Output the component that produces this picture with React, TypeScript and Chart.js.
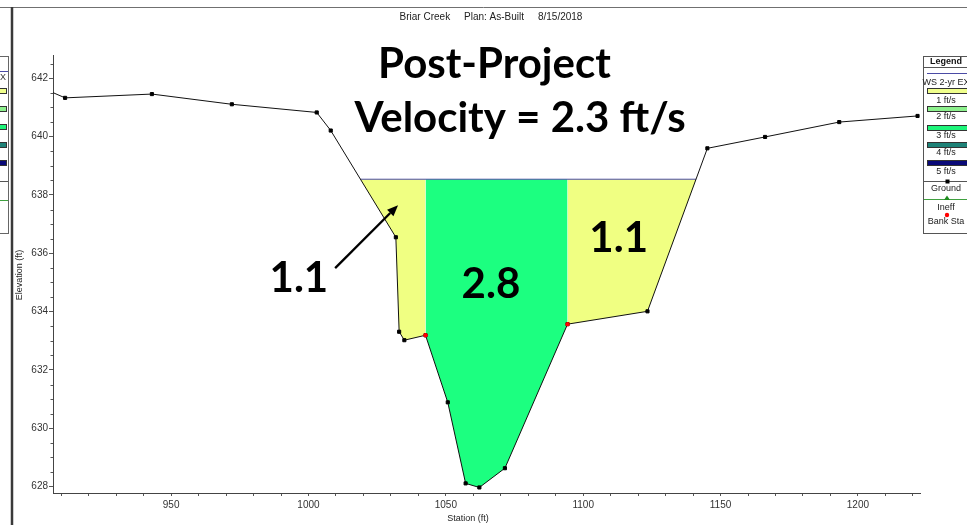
import React, { useEffect, useRef } from "react";
import { Chart, registerables } from "chart.js";

Chart.register(...registerables);

// ---- Data ----
const groundStation = [906.0, 911.4, 943.0, 972.1, 1003.0, 1008.1, 1031.8, 1033.0, 1034.9, 1042.6, 1050.7, 1057.2, 1062.2, 1071.5, 1094.3, 1123.4, 1145.2, 1166.2, 1193.2, 1221.7];
const groundElevation = [641.55, 641.33, 641.46, 641.11, 640.83, 640.21, 636.55, 633.31, 633.02, 633.19, 630.89, 628.11, 627.97, 628.63, 633.57, 634.01, 639.6, 639.99, 640.5, 640.71];
const bankStation = [1042.6, 1094.3];
const bankElevation = [633.19, 633.57];
const wsElevation = 638.54;
const wsLeftStation = 1018.9;
const wsRightStation = 1141.1;
const zoneBounds = [wsLeftStation, 1042.6, 1094.3, wsRightStation];
const zoneVelocity = ["1.1", "2.8", "1.1"];
const xMajorTicks = [950, 1000, 1050, 1100, 1150, 1200];
const yMajorTicks = [628, 630, 632, 634, 636, 638, 640, 642];
const legendLabels = ["WS 2-yr EX", "1 ft/s", "2 ft/s", "3 ft/s", "4 ft/s", "5 ft/s", "Ground", "Ineff", "Bank Sta"];
const titleText = "Briar Creek     Plan: As-Built     8/15/2018";
const headline = ["Post-Project", "Velocity = 2.3 ft/s"];

// ---- Styles / layout ----
const zoneColors = ["#F0FF82", "#1CFF80", "#F0FF82"];
const legendBarColors = ["#F0FF8C", "#8CF08C", "#1EF57A", "#1E8278", "#0A0A78"];
const smallFont = "'Liberation Sans Narrow', 'Liberation Sans', Arial, sans-serif";
const bigFont = "Lato, 'Open Sans', sans-serif";
// annotation anchors in data units (station, elevation)
const headlinePos = [
  { x: 1067.7, y: 642.01 },
  { x: 1077.0, y: 640.16 },
];
const zoneLabelPos = [
  { x: 996.5, y: 634.68 },
  { x: 1066.4, y: 634.46 },
  { x: 1112.9, y: 636.05 },
];
const arrowFrom = { x: 1009.7, y: 635.49 };
const arrowTo = { x: 1032.6, y: 637.65 };

function zonePoints(a: number, b: number) {
  const pts: { x: number; y: number }[] = [];
  if (a === wsLeftStation) pts.push({ x: a, y: wsElevation });
  groundStation.forEach((s, i) => {
    if (s >= a && s <= b) pts.push({ x: s, y: groundElevation[i] });
  });
  if (b === wsRightStation) pts.push({ x: b, y: wsElevation });
  return pts;
}

const decorPlugin = {
  id: "decor",
  beforeDraw(chart: any) {
    const ctx = chart.ctx;
    ctx.save();
    ctx.fillStyle = "#ffffff";
    ctx.fillRect(0, 0, chart.width, chart.height);
    // window frame lines
    ctx.strokeStyle = "#707070";
    ctx.lineWidth = 1;
    ctx.beginPath();
    ctx.moveTo(0, 7.5);
    ctx.lineTo(chart.width, 7.5);
    ctx.stroke();
    ctx.strokeStyle = "#3a3a3a";
    ctx.lineWidth = 2.5;
    ctx.beginPath();
    ctx.moveTo(12, 7);
    ctx.lineTo(12, chart.height);
    ctx.stroke();

    // left legend fragment (neighbouring window)
    ctx.lineWidth = 1;
    ctx.strokeStyle = "#666";
    ctx.strokeRect(-20.5, 56.5, 29, 177);
    ctx.strokeStyle = "#4B4BA5";
    ctx.beginPath();
    ctx.moveTo(0, 71.5);
    ctx.lineTo(8, 71.5);
    ctx.stroke();
    ctx.fillStyle = "#333";
    ctx.font = `9px ${smallFont}`;
    ctx.textAlign = "right";
    ctx.textBaseline = "middle";
    ctx.fillText("EX", 6, 78);
    const fragY = [91, 109, 127, 145, 163];
    fragY.forEach((y, i) => {
      ctx.fillStyle = legendBarColors[i];
      ctx.fillRect(-10, y - 2, 16.5, 4);
      ctx.strokeStyle = "#333";
      ctx.strokeRect(-10.5, y - 2.5, 17, 5);
    });
    ctx.strokeStyle = "#555";
    ctx.beginPath();
    ctx.moveTo(0, 181.5);
    ctx.lineTo(8, 181.5);
    ctx.stroke();
    ctx.strokeStyle = "#3FA03F";
    ctx.beginPath();
    ctx.moveTo(0, 200.5);
    ctx.lineTo(8, 200.5);
    ctx.stroke();
    ctx.restore();
  },
  afterDraw(chart: any) {
    const ctx = chart.ctx;
    const xs = chart.scales.x;
    const ys = chart.scales.y;
    const area = chart.chartArea;
    ctx.save();

    // minor y ticks (every 0.5 ft)
    ctx.strokeStyle = "#555";
    ctx.lineWidth = 1;
    for (let v = 628; v <= 642.5; v += 0.5) {
      if (yMajorTicks.includes(v)) continue;
      const py = Math.round(ys.getPixelForValue(v)) + 0.5;
      ctx.beginPath();
      ctx.moveTo(area.left - 2.5, py);
      ctx.lineTo(area.left, py);
      ctx.stroke();
    }

    // title
    ctx.fillStyle = "#222";
    ctx.font = `10px ${smallFont}`;
    ctx.textAlign = "center";
    ctx.textBaseline = "middle";
    ctx.fillText(titleText, 491, 17);

    // axis titles
    ctx.font = `9px ${smallFont}`;
    ctx.fillText("Station (ft)", 468, 519);
    ctx.save();
    ctx.translate(20, 275);
    ctx.rotate(-Math.PI / 2);
    ctx.fillText("Elevation (ft)", 0, 0);
    ctx.restore();

    // right legend
    const lx = 923.5;
    ctx.strokeStyle = "#555";
    ctx.lineWidth = 1;
    ctx.strokeRect(lx, 56.5, 60, 177);
    ctx.beginPath();
    ctx.moveTo(lx, 67.5);
    ctx.lineTo(chart.width, 67.5);
    ctx.stroke();
    ctx.fillStyle = "#111";
    ctx.font = `bold 9px ${smallFont}`;
    ctx.fillText("Legend", 946, 62);
    ctx.strokeStyle = "#4B4BA5";
    ctx.beginPath();
    ctx.moveTo(927, 73.5);
    ctx.lineTo(chart.width, 73.5);
    ctx.stroke();
    const labelY = [83, 101, 117, 136, 153, 172, 189, 208, 222];
    ctx.font = `9px ${smallFont}`;
    ctx.fillStyle = "#222";
    legendLabels.forEach((t, i) => ctx.fillText(t, 946, labelY[i]));
    const barY = [91, 109, 128, 145, 163];
    barY.forEach((y, i) => {
      ctx.fillStyle = legendBarColors[i];
      ctx.fillRect(928, y - 2, 50, 4);
      ctx.strokeStyle = "#333";
      ctx.strokeRect(927.5, y - 2.5, 51, 5);
    });
    ctx.strokeStyle = "#555";
    ctx.beginPath();
    ctx.moveTo(924, 181.5);
    ctx.lineTo(chart.width, 181.5);
    ctx.stroke();
    ctx.fillStyle = "#000";
    ctx.fillRect(945.5, 179.5, 4, 4);
    ctx.strokeStyle = "#3FA03F";
    ctx.beginPath();
    ctx.moveTo(924, 199.5);
    ctx.lineTo(chart.width, 199.5);
    ctx.stroke();
    ctx.fillStyle = "#1E8C1E";
    ctx.beginPath();
    ctx.moveTo(947, 195.5);
    ctx.lineTo(950, 200);
    ctx.lineTo(944, 200);
    ctx.closePath();
    ctx.fill();
    ctx.fillStyle = "#FF0000";
    ctx.beginPath();
    ctx.arc(947, 215, 2.2, 0, Math.PI * 2);
    ctx.fill();

    // headline and velocity labels
    ctx.fillStyle = "#000";
    ctx.textBaseline = "alphabetic";
    ctx.textAlign = "center";
    ctx.font = `bold 42px ${bigFont}`;
    headline.forEach((t, i) => {
      ctx.fillText(t, xs.getPixelForValue(headlinePos[i].x), ys.getPixelForValue(headlinePos[i].y));
    });
    zoneVelocity.forEach((t, i) => {
      ctx.fillText(t, xs.getPixelForValue(zoneLabelPos[i].x), ys.getPixelForValue(zoneLabelPos[i].y));
    });

    // arrow
    const x0 = xs.getPixelForValue(arrowFrom.x);
    const y0 = ys.getPixelForValue(arrowFrom.y);
    const x1 = xs.getPixelForValue(arrowTo.x);
    const y1 = ys.getPixelForValue(arrowTo.y);
    const ang = Math.atan2(y1 - y0, x1 - x0);
    const headLen = 11;
    const headW = 4.5;
    const bx = x1 - headLen * Math.cos(ang);
    const by = y1 - headLen * Math.sin(ang);
    ctx.strokeStyle = "#000";
    ctx.lineWidth = 2.3;
    ctx.beginPath();
    ctx.moveTo(x0, y0);
    ctx.lineTo(bx, by);
    ctx.stroke();
    ctx.beginPath();
    ctx.moveTo(x1, y1);
    ctx.lineTo(bx + headW * Math.sin(ang), by - headW * Math.cos(ang));
    ctx.lineTo(bx - headW * Math.sin(ang), by + headW * Math.cos(ang));
    ctx.closePath();
    ctx.fill();
    ctx.restore();
  },
};

export default function App() {
  const ref = useRef<HTMLCanvasElement | null>(null);

  useEffect(() => {
    if (!ref.current) return;
    const zoneDatasets = zoneVelocity.map((v, i) => ({
      label: `zone ${v}`,
      data: zonePoints(zoneBounds[i], zoneBounds[i + 1]),
      borderColor: "rgba(0,0,0,0)",
      borderWidth: 0,
      backgroundColor: zoneColors[i],
      fill: { value: wsElevation },
      pointRadius: 0,
      tension: 0,
      order: 3,
    }));

    const xTickValues: number[] = [];
    for (let v = 910; v <= 1220; v += 10) xTickValues.push(v);

    const chart = new Chart(ref.current, {
      type: "line",
      data: {
        datasets: [
          {
            label: "Bank Sta",
            data: bankStation.map((s, i) => ({ x: s, y: bankElevation[i] })),
            showLine: false,
            pointStyle: "circle",
            pointRadius: 2.2,
            pointBorderWidth: 0,
            pointBackgroundColor: "#FF0000",
            borderColor: "#FF0000",
            order: 0,
          },
          {
            label: "Ground",
            data: groundStation.map((s, i) => ({ x: s, y: groundElevation[i] })),
            borderColor: "#111",
            borderWidth: 1,
            pointStyle: "rect",
            pointRadius: (c: any) => (c.dataIndex === 0 ? 0 : 2.2),
            pointBorderWidth: 1,
            pointBackgroundColor: "#000",
            pointBorderColor: "#000",
            fill: false,
            tension: 0,
            order: 1,
          },
          {
            label: "WS 2-yr EX",
            data: [
              { x: wsLeftStation, y: wsElevation },
              { x: wsRightStation, y: wsElevation },
            ],
            borderColor: "#4B4BA5",
            borderWidth: 1,
            pointRadius: 0,
            fill: false,
            order: 2,
          },
          ...zoneDatasets,
        ] as any,
      },
      options: {
        animation: false,
        responsive: false,
        devicePixelRatio: 1,
        events: [],
        layout: { padding: { top: 55, right: 47, left: 0, bottom: 0 } },
        plugins: {
          legend: { display: false },
          tooltip: { enabled: false },
          title: { display: false },
        },
        scales: {
          x: {
            type: "linear",
            min: 907,
            max: 1222.6,
            afterBuildTicks: (scale: any) => {
              scale.ticks = xTickValues.map((v) => ({ value: v }));
            },
            afterFit: (scale: any) => {
              scale.height = 32;
            },
            ticks: {
              autoSkip: false,
              maxRotation: 0,
              padding: 3,
              color: "#333",
              font: { family: smallFont, size: 10 },
              callback: (v: any) => (xMajorTicks.includes(Number(v)) ? String(v) : ""),
            },
            grid: {
              display: true,
              drawOnChartArea: false,
              drawTicks: true,
              tickLength: 3,
              tickColor: "#555",
            },
            border: { display: true, color: "#444", width: 1 },
          },
          y: {
            type: "linear",
            min: 627.78,
            max: 642.8,
            afterBuildTicks: (scale: any) => {
              scale.ticks = yMajorTicks.map((v) => ({ value: v }));
            },
            afterFit: (scale: any) => {
              scale.width = 53;
            },
            ticks: {
              autoSkip: false,
              padding: 1,
              color: "#333",
              font: { family: smallFont, size: 10 },
              callback: (v: any) => String(v),
            },
            grid: {
              display: true,
              drawOnChartArea: false,
              drawTicks: true,
              tickLength: 4,
              tickColor: "#555",
            },
            border: { display: true, color: "#444", width: 1 },
          },
        },
      } as any,
      plugins: [decorPlugin],
    });
    return () => chart.destroy();
  }, []);

  return (
    <div style={{ position: "fixed", left: 0, top: 0, width: 967, height: 525, background: "#fff" }}>
      <canvas ref={ref} width={967} height={525} style={{ width: 967, height: 525, display: "block" }} />
    </div>
  );
}
